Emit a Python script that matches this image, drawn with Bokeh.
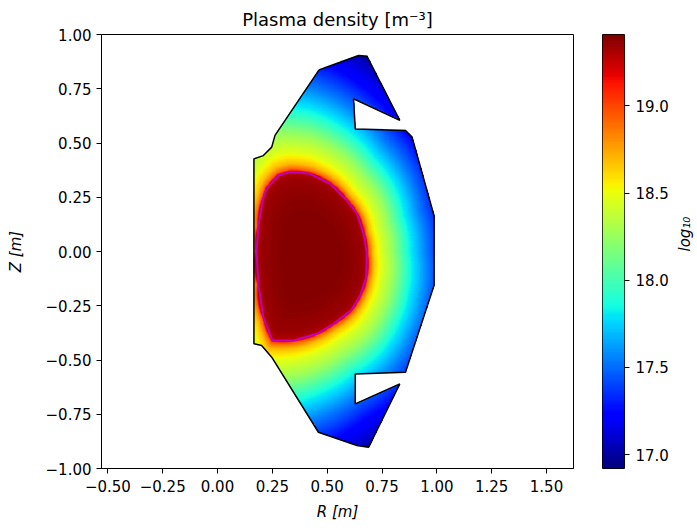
import numpy as np
from bokeh.plotting import figure
from bokeh.models import LinearColorMapper, FixedTicker, Range1d
from bokeh.layouts import row
from bokeh.embed import file_html
from bokeh.resources import INLINE

# ---------------- data ----------------
# vessel wall contour [m]
wall_r = [0.463, 0.559, 0.643, 0.681, 0.831, 0.620, 0.628, 0.857, 0.887, 0.987, 0.987,
          0.857, 0.628, 0.628, 0.831, 0.689, 0.636, 0.460, 0.247, 0.201, 0.166, 0.166,
          0.209, 0.247, 0.262]
wall_z = [0.837, 0.872, 0.903, 0.900, 0.604, 0.704, 0.565, 0.558, 0.527, 0.166, -0.157,
          -0.556, -0.564, -0.702, -0.610, -0.902, -0.894, -0.833, -0.487, -0.433, -0.425, 0.427,
          0.442, 0.481, 0.535]
# last closed flux surface [m]
lcfs_r = [0.681, 0.666, 0.636, 0.590, 0.514, 0.422, 0.332, 0.277, 0.224, 0.205, 0.186, 0.178,
          0.186, 0.209, 0.250, 0.346, 0.453, 0.529, 0.610, 0.652, 0.678]
lcfs_z = [-0.010, 0.082, 0.174, 0.235, 0.312, 0.358, 0.367, 0.350, 0.290, 0.235, 0.112, 0.000,
          -0.149, -0.303, -0.410, -0.410, -0.379, -0.333, -0.270, -0.200, -0.118]
# density profile: log10(n) versus normalised radius (1 = LCFS)
prof_rho = [0.0, 0.6, 0.9, 1.0, 1.03, 1.1, 1.22, 1.45, 1.75, 2.05, 2.4, 2.8, 4.0]
prof_log10n = [19.40, 19.39, 19.35, 19.28, 18.92, 18.68, 18.48, 18.25, 17.85, 17.55, 17.25, 17.00, 16.90]
x_ticks = [-0.5, -0.25, 0.0, 0.25, 0.5, 0.75, 1.0, 1.25, 1.5]
y_ticks = [-1.0, -0.75, -0.5, -0.25, 0.0, 0.25, 0.5, 0.75, 1.0]
cb_ticks = [17.0, 17.5, 18.0, 18.5, 19.0]
cb_low, cb_high = 16.92, 19.41

FONT = "DejaVu Sans"
FS = "15px"

# ---------------- jet palette ----------------
def jet_palette(n=256):
    t = np.linspace(0, 1, n)
    r = np.interp(t, [0, 0.35, 0.66, 0.89, 1.0], [0, 0, 1, 1, 0.5])
    g = np.interp(t, [0, 0.125, 0.375, 0.64, 0.91, 1.0], [0, 0, 1, 1, 0, 0])
    b = np.interp(t, [0, 0.11, 0.34, 0.65, 1.0], [0.5, 1, 1, 0, 0])
    return ["#%02x%02x%02x" % (int(round(a * 255)), int(round(c * 255)), int(round(d * 255)))
            for a, c, d in zip(r, g, b)]

mapper = LinearColorMapper(palette=jet_palette(), low=cb_low, high=cb_high,
                           nan_color="rgba(0,0,0,0)")

# ---------------- build the density field ----------------
R0, Z0 = 0.43, -0.02
lr, lz = np.array(lcfs_r), np.array(lcfs_z)
ang = np.arctan2(lz - Z0, lr - R0)
rad = np.hypot(lz - Z0, lr - R0)
o = np.argsort(ang)
ang, rad = ang[o], rad[o]
ang_ext = np.concatenate([ang - 2 * np.pi, ang, ang + 2 * np.pi])
rad_ext = np.concatenate([rad, rad, rad])

r_min, r_max, z_min, z_max = 0.15, 1.0, -0.92, 0.92
nr, nz = 340, 736
rc = r_min + (np.arange(nr) + 0.5) * (r_max - r_min) / nr
zc = z_min + (np.arange(nz) + 0.5) * (z_max - z_min) / nz
RR, ZZ = np.meshgrid(rc, zc)
phi = np.arctan2(ZZ - Z0, RR - R0)
rb = np.interp(phi, ang_ext, rad_ext)
rho = np.hypot(ZZ - Z0, RR - R0) / rb
val = np.interp(rho, prof_rho, prof_log10n)


def inside_poly(x, y, px, py):
    res = np.zeros(x.shape, dtype=bool)
    n = len(px)
    j = n - 1
    for i in range(n):
        xi, yi, xj, yj = px[i], py[i], px[j], py[j]
        if yj != yi:
            cond = ((yi > y) != (yj > y)) & (x < (xj - xi) * (y - yi) / (yj - yi) + xi)
            res ^= cond
        j = i
    return res


val[~inside_poly(RR, ZZ, wall_r, wall_z)] = np.nan

# ---------------- main figure ----------------
p = figure(output_backend="svg", toolbar_location=None,
           frame_width=472, frame_height=434,
           x_range=Range1d(-0.529, 1.623), y_range=Range1d(-1.0, 1.0),
           min_border_left=101, min_border_right=10, min_border_top=34, min_border_bottom=64,
           title="Plasma density [m⁻³]")
p.title.align = "center"
p.title.text_font = FONT
p.title.text_font_size = "18px"
p.title.text_font_style = "normal"
p.title.text_color = "black"
p.title.offset = 0

p.image(image=[val], x=r_min, y=z_min, dw=r_max - r_min, dh=z_max - z_min,
        color_mapper=mapper)
p.line(wall_r + wall_r[:1], wall_z + wall_z[:1], line_color="black", line_width=1.5)
p.line(lcfs_r + lcfs_r[:1], lcfs_z + lcfs_z[:1], line_color="#bf00bf", line_width=2)

p.xgrid.visible = False
p.ygrid.visible = False
p.outline_line_color = "black"
p.outline_line_alpha = 1.0
p.outline_line_width = 1

p.xaxis.ticker = FixedTicker(ticks=x_ticks)
p.yaxis.ticker = FixedTicker(ticks=y_ticks)
p.xaxis.major_label_overrides = {t: ("%.2f" % t).replace("-", "−") for t in x_ticks}
p.yaxis.major_label_overrides = {t: ("%.2f" % t).replace("-", "−") for t in y_ticks}
p.xaxis.axis_label = "R [m]"
p.yaxis.axis_label = "Z [m]"
for ax in (p.xaxis[0], p.yaxis[0]):
    ax.axis_line_color = "black"
    ax.major_tick_line_color = "black"
    ax.major_tick_in = 0
    ax.major_tick_out = 5
    ax.minor_tick_line_color = None
    ax.major_label_text_font = FONT
    ax.major_label_text_font_size = FS
    ax.major_label_text_color = "black"
    ax.axis_label_text_font = FONT
    ax.axis_label_text_font_size = FS
    ax.axis_label_text_font_style = "italic"
    ax.axis_label_text_color = "black"
p.xaxis.major_label_standoff = 6
p.yaxis.major_label_standoff = 5
p.yaxis.axis_label_standoff = 18
p.xaxis.axis_label_standoff = 8

# ---------------- colour bar ----------------
grad = np.linspace(cb_low, cb_high, 300)[:, None]
cb = figure(output_backend="svg", toolbar_location=None,
            frame_width=22, frame_height=434,
            x_range=Range1d(0, 1), y_range=Range1d(cb_low, cb_high),
            x_axis_location=None, y_axis_location="right",
            min_border_left=19, min_border_right=70, min_border_top=34, min_border_bottom=64)
cb.image(image=[grad], x=0, y=cb_low, dw=1, dh=cb_high - cb_low, color_mapper=mapper)
cb.xgrid.visible = False
cb.ygrid.visible = False
cb.outline_line_color = "black"
cb.outline_line_alpha = 1.0
cb.yaxis.ticker = FixedTicker(ticks=cb_ticks)
cb.yaxis.major_label_overrides = {t: "%.1f" % t for t in cb_ticks}
cb.yaxis.axis_label = "log₁₀"
ax = cb.yaxis[0]
ax.axis_line_color = None
ax.major_tick_line_color = "black"
ax.major_tick_in = 0
ax.major_tick_out = 5
ax.major_label_standoff = 6
ax.axis_label_standoff = 13
ax.minor_tick_line_color = None
ax.major_label_text_font = FONT
ax.major_label_text_font_size = FS
ax.major_label_text_color = "black"
ax.axis_label_text_font = FONT
ax.axis_label_text_font_size = FS
ax.axis_label_text_font_style = "italic"
ax.axis_label_text_color = "black"
if "axis_label_orientation" in ax.properties():
    ax.axis_label_orientation = np.pi / 2

layout = row(p, cb)
open("out.html", "w").write(file_html(layout, INLINE))
